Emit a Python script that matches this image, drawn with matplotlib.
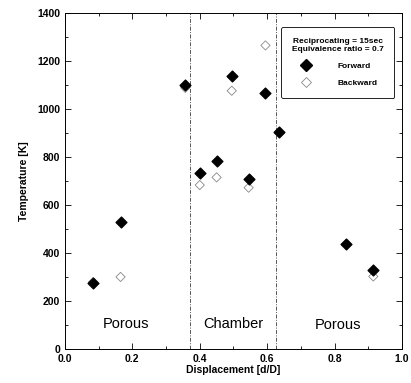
import numpy as np
import matplotlib
matplotlib.use('Agg')
import matplotlib.pyplot as plt
from matplotlib.lines import Line2D
from matplotlib.ticker import MultipleLocator

plt.rcParams['font.family'] = ['Liberation Sans', 'DejaVu Sans']

# ---------------- data ----------------
x_fwd = [0.083, 0.165, 0.357, 0.400, 0.450, 0.495, 0.545, 0.595, 0.635, 0.835, 0.915]
t_fwd = [275, 527, 1100, 735, 782, 1138, 708, 1068, 905, 438, 330]

x_bwd = [0.083, 0.165, 0.357, 0.400, 0.450, 0.495, 0.545, 0.595, 0.635, 0.835, 0.915]
t_bwd = [278, 300, 1088, 683, 715, 1076, 672, 1265, 903, 436, 302]

region_edges = [0.37, 0.625]
region_names = ['Porous', 'Chamber', 'Porous']
region_x = [0.18, 0.50, 0.81]
region_y = [105, 105, 100]

# ---------------- plot ----------------
fig = plt.figure(figsize=(4.11, 3.83), dpi=100)
ax = fig.add_axes([0.158, 0.089, 0.82, 0.877])

ax.scatter(x_bwd, t_bwd, marker='D', s=22, facecolors='none',
           edgecolors='#888888', linewidths=0.6, zorder=2)
ax.scatter(x_fwd, t_fwd, marker='D', s=30, color='black', zorder=3)

for xe in region_edges:
    ax.axvline(xe, color='#555555', lw=0.7, ls=(0, (4, 1.5, 1, 1.5)), zorder=1)

for name, xx, yy in zip(region_names, region_x, region_y):
    ax.text(xx, yy, name, ha='center', va='center', fontsize=10.5)

ax.set_xlim(0, 1.0)
ax.set_ylim(0, 1400)
ax.xaxis.set_major_locator(MultipleLocator(0.2))
ax.xaxis.set_minor_locator(MultipleLocator(0.1))
ax.yaxis.set_major_locator(MultipleLocator(200))
ax.yaxis.set_minor_locator(MultipleLocator(100))
ax.tick_params(which='both', direction='in', top=True, right=True,
               labelsize=7.5, width=0.6)
ax.tick_params(which='major', length=4)
ax.tick_params(which='minor', length=2)
ax.set_xticks(ax.get_xticks())
ax.set_xticklabels(['%.1f' % v for v in ax.get_xticks()], fontweight='bold')
ax.set_yticks(ax.get_yticks())
ax.set_yticklabels(['%d' % v for v in ax.get_yticks()], fontweight='bold')
ax.set_xlim(0, 1.0)
ax.set_ylim(0, 1400)

for s in ax.spines.values():
    s.set_linewidth(0.7)

ax.set_xlabel('Displacement [d/D]', fontsize=7.5, fontweight='bold', labelpad=1)
ax.set_ylabel('Temperature [K]', fontsize=7.5, fontweight='bold', labelpad=6)

handles = [Line2D([], [], marker='D', color='black', ls='none', markersize=6),
           Line2D([], [], marker='D', markerfacecolor='none', markeredgecolor='#888888',
                  markeredgewidth=0.6, ls='none', markersize=5)]
leg = ax.legend(handles, ['Forward', 'Backward'],
                title='Reciprocating = 15sec\nEquivalence ratio = 0.7',
                loc='upper right', bbox_to_anchor=(0.99, 0.97),
                fontsize=6, title_fontsize=6, fancybox=True,
                edgecolor='black', framealpha=1, borderpad=1.3,
                labelspacing=1.1, handletextpad=2.8)
leg.get_frame().set_linewidth(0.6)
plt.setp(leg.get_title(), fontweight='bold', multialignment='center')
for t in leg.get_texts():
    t.set_fontweight('bold')

fig.savefig('out.png', dpi=100)
